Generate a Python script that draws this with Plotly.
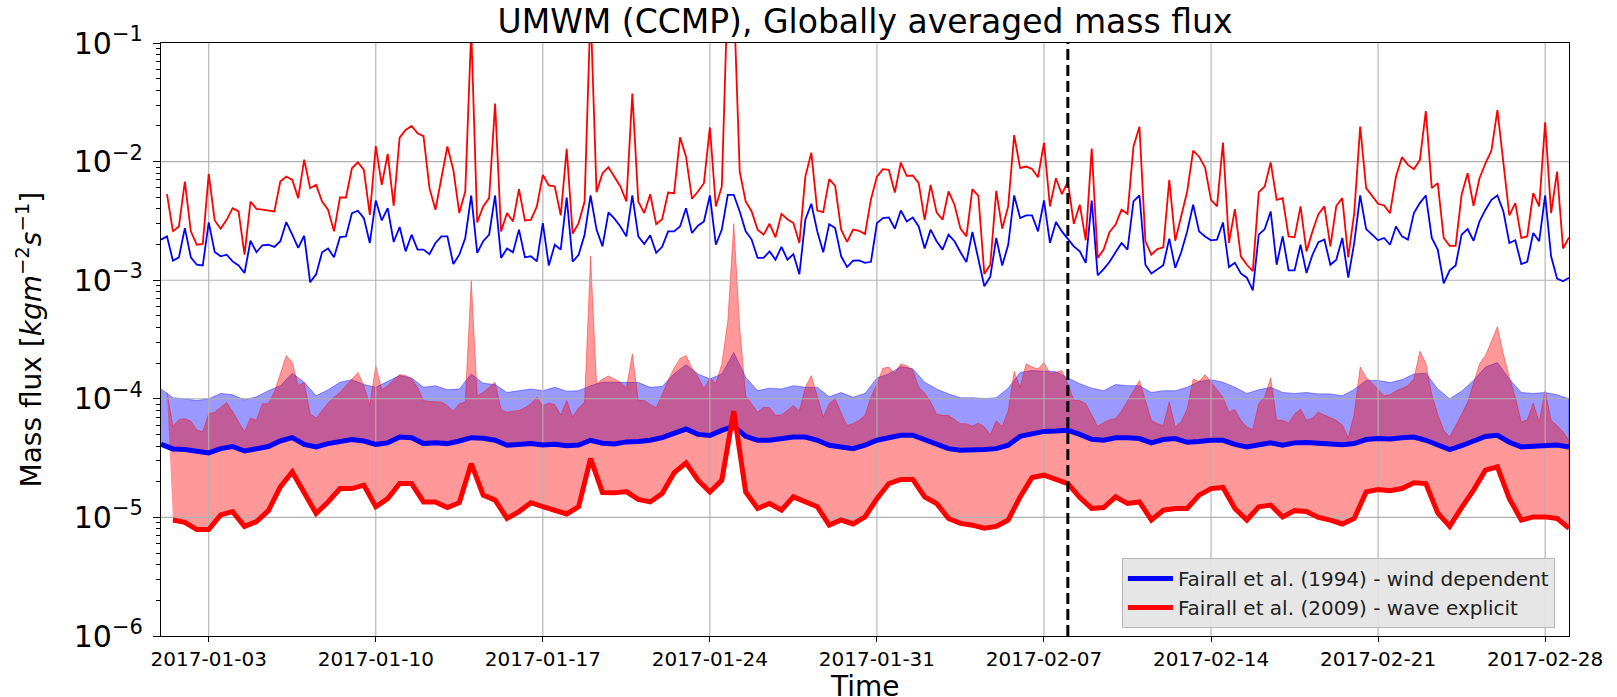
import pandas as pd
import plotly.graph_objects as go

# ---------------- data ----------------
t_start = "2017-01-01 00:00"
split_date = "2017-02-08 00:00"
x_range = ["2017-01-01 00:00", "2017-03-01 00:00"]
x_tick_labels = ["2017-01-03", "2017-01-10", "2017-01-17", "2017-01-24", "2017-01-31",
                 "2017-02-07", "2017-02-14", "2017-02-21", "2017-02-28"]
y_tick_exponents = [-6, -5, -4, -3, -2, -1]
legend_names = ["Fairall et al. (1994) - wind dependent", "Fairall et al. (2009) - wave explicit"]

UNIT_TOP = 1e-3   # thin (maximum) curves, kg m-2 s-1
UNIT_LOW = 1e-5   # band / mean curves, kg m-2 s-1

# 6-hourly maximum, wind-dependent (x1e-3)
wind_max = [
    2.20, 2.34, 1.46, 1.56, 2.75, 1.56, 1.35, 1.33, 3.07, 1.73,
    1.59, 1.64, 1.44, 1.33, 1.15, 2.15, 1.72, 1.97, 1.99, 1.91,
    2.13, 3.09, 2.42, 1.87, 2.37, 0.96, 1.12, 1.72, 1.85, 1.56,
    2.31, 2.34, 3.68, 3.85, 3.34, 2.06, 4.70, 3.19, 4.05, 2.10,
    2.81, 1.75, 2.42, 1.81, 1.81, 1.66, 2.06, 2.34, 2.34, 1.37,
    1.64, 2.27, 5.18, 1.70, 2.13, 2.42, 5.18, 1.54, 1.85, 1.72,
    2.67, 1.56, 1.59, 1.44,
    3.03, 1.33, 1.99, 1.81, 4.98, 1.43, 1.64, 2.42, 5.18, 2.67,
    1.93, 3.73, 3.30, 2.84, 2.34, 5.18, 2.34, 2.02, 2.39, 1.70,
    1.91, 2.58, 2.58, 2.84, 4.05, 2.50, 2.88, 3.13, 5.18, 1.99,
    2.67, 5.25, 5.25, 3.80, 2.58, 2.20, 1.54, 1.54, 1.75, 1.49,
    1.91, 1.49, 1.66, 1.12, 3.23, 4.41, 2.58, 1.72, 2.97, 2.75,
    1.59, 1.29, 1.46, 1.47, 1.40, 1.43, 3.03, 3.34, 3.38, 2.72,
    3.87, 3.13, 3.38, 2.84, 1.85, 2.67, 2.13,
    1.81, 2.42, 2.13, 1.72, 1.42, 2.55, 1.49, 0.89, 1.07, 2.27,
    1.33, 1.99, 5.18, 3.34, 3.52, 3.52, 2.58, 4.70, 2.06, 3.09,
    2.58, 2.24, 1.93, 1.75, 1.40, 4.70, 1.10, 1.24, 1.43, 1.72,
    2.06, 1.81, 4.61, 5.18, 1.35, 1.14, 1.23, 1.34, 2.24, 1.27,
    1.72, 2.58, 4.33, 2.58, 2.34, 2.17, 2.20, 3.07, 1.29, 1.40,
    1.14, 1.05, 0.82, 2.42, 2.70, 3.80, 1.35, 2.34, 1.21, 1.21,
    1.99, 1.15, 1.64, 2.09, 2.20, 1.35, 1.49, 2.27, 1.05,
    2.06, 5.18, 2.70, 2.42, 2.17, 2.27, 1.99, 2.84, 2.34, 2.20,
    3.68, 4.47, 5.18, 2.27, 1.81, 0.94, 1.21, 1.33, 2.42, 2.70,
    2.15, 3.13, 3.93, 4.76, 5.18, 3.80, 2.06, 2.17, 1.37, 1.43,
    2.50, 2.13, 5.18, 1.59, 1.03, 0.98, 1.05,
]

# 6-hourly maximum, wave-explicit (x1e-3)
wave_max = [
    None,
    5.31, 2.58, 2.84, 6.79, 2.58, 1.99, 2.02, 7.88, 3.19, 2.72,
    3.23, 4.05, 3.80, 1.64, 4.61, 4.00, 3.93, 3.87, 3.80, 6.79,
    7.48, 7.01, 4.92, 10.4, 5.97, 6.37, 4.61, 3.93, 2.58, 4.98,
    4.98, 8.79, 9.87, 8.51, 3.56, 13.5, 6.37, 11.6, 4.24, 15.9,
    18.5, 20.0, 17.3, 16.4, 5.97, 3.93, 7.24, 13.4, 8.51, 3.68,
    5.60, 130, 3.07, 4.19, 4.92, 30.9, 2.58, 3.68, 3.13, 5.85,
    3.19, 3.23, 4.19,
    7.73, 6.29, 6.17, 3.52, 12.8, 2.47, 3.03, 4.61, 200, 5.52,
    7.98, 8.96, 7.48, 6.17, 4.61, 37.5, 4.61, 3.68, 5.31, 2.97,
    3.27, 5.49, 5.42, 16.0, 11.0, 4.86, 5.60, 6.58, 19.4, 4.19,
    6.17, 300, 250, 8.24, 4.61, 3.80, 2.67, 2.42, 2.99, 2.30,
    3.63, 3.27, 3.03, 2.06, 7.48, 11.9, 3.87, 3.75, 7.11, 6.25,
    2.67, 2.10, 2.67, 2.61, 2.45, 4.82, 7.48, 8.63, 8.51, 5.49,
    9.82, 7.58, 7.63, 6.58, 3.23, 6.37, 3.73,
    3.23, 5.60, 4.33, 2.72, 2.34, 5.85, 5.14, 1.13, 1.35, 5.67,
    2.72, 4.19, 16.7, 8.79, 9.08, 8.67, 7.38, 14.4, 4.19, 7.24,
    5.31, 6.79, 2.99, 4.33, 2.17, 12.9, 1.54, 1.81, 2.55, 2.94,
    3.93, 3.63, 13.4, 19.7, 2.13, 1.64, 1.83, 1.89, 7.01, 2.15,
    3.56, 5.60, 12.4, 11.0, 8.91, 4.76, 4.19, 14.5, 2.06, 3.97,
    1.59, 1.35, 1.19, 5.52, 6.17, 9.87, 4.76, 4.92, 2.34, 2.30,
    4.19, 1.75, 2.58, 3.61, 4.19, 1.93, 4.24, 4.92, 1.56,
    3.68, 19.7, 5.97, 5.14, 4.41, 4.27, 3.68, 7.48, 10.9, 9.38,
    8.63, 10.3, 26.7, 5.97, 6.58, 2.27, 1.95, 1.95, 5.25, 7.98,
    4.24, 7.24, 9.68, 12.4, 27.2, 9.82, 3.52, 4.47, 2.27, 2.34,
    5.42, 4.19, 21.4, 3.68, 8.24, 1.85, 2.30,
]

# 12-hourly band upper edge, wind-dependent (x1e-5)
wind_upper = [
    12.1, 10.2, 10.0, 9.68, 10.0, 11.1, 10.8, 9.8, 10.4, 11.7,
    12.9, 16.4, 13.8, 10.6, 11.9, 13.8, 14.5, 13.2, 12.5, 14.1,
    15.7, 15.0, 12.5, 12.9, 11.9, 12.1, 16.2, 13.5, 13.2, 11.3,
    11.7, 12.1, 11.7, 12.5,
    11.6, 11.7, 12.9, 13.8, 13.8, 13.8, 13.7, 12.5, 12.7, 16.2,
    19.4, 16.2, 14.7, 16.2, 24.6, 15.2, 11.7, 12.3, 12.1, 12.9,
    12.5, 12.5, 10.4, 11.3, 10.3, 11.1, 15.0, 16.2, 18.7, 17.9,
    13.8, 12.1, 11.0,
    10.2, 10.2, 10.05, 10.2, 12.3, 16.7, 17.3, 17.0, 16.9, 15.0,
    13.4, 12.3, 11.7, 13.2, 12.9, 12.9, 11.3, 11.7, 11.7, 12.5,
    14.0, 14.5, 13.8, 12.5, 11.1, 11.9, 12.5, 11.3, 11.1, 11.3,
    11.0, 11.0, 10.6, 12.0,
    14.3, 14.3, 13.7, 14.5, 16.2, 16.4, 12.1, 10.0, 11.6, 14.3,
    18.5, 20.2, 14.7, 11.3, 11.1, 11.3, 10.8, 10.0,
]

# 6-hourly band upper edge, wave-explicit (x1e-5)
wave_upper = [
    None,
    11.4, 5.86, 6.66, 6.8, 6.5, 5.46, 5.28, 7.48, 7.7, 8.4,
    9.3, 7.8, 6.36, 5.25, 6.9, 6.58, 9.08, 9.08, 11.4, 16.2,
    23.2, 20.2, 12.9, 13.8, 7.48, 6.9, 7.98, 9.2, 10.3, 11.3,
    12.9, 14.7, 16.7, 12.9, 8.8, 19.0, 11.9, 12.9, 14.3, 16.0,
    15.7, 14.7, 12.5, 9.68, 9.5, 9.38, 9.38, 8.8, 7.87, 9.08,
    9.38, 100, 10.6, 11.3, 12.5, 13.8, 8.1, 7.7, 7.87, 7.98,
    8.4, 9.08, 10.3, 8.7, 9.2, 8.95, 7.3, 9.68, 7.0, 8.4,
    9.38, 160, 13.4, 14.7, 15.6, 14.7, 13.8, 12.3, 23.9, 9.68,
    9.68, 8.95, 8.4, 10.8, 14.3, 18.2, 21.8, 23.2, 18.2, 15.4,
    12.1, 15.0, 13.5, 19.7, 45, 300, 40, 10.6, 9.08, 7.7,
    8.5, 8.4, 7.25, 7.3, 7.98, 8.8, 7.87, 12.5, 15.7, 10.3,
    7.0, 9.08, 10.0, 7.6, 5.96, 6.17, 6.58, 7.25, 10.3, 13.4,
    18.1, 18.5, 16.4, 19.7, 19.0, 17.5, 12.5, 11.2, 9.38, 7.4,
    7.25, 7.25, 6.66, 6.17, 6.17, 5.86, 6.25, 5.78, 5.0, 6.5,
    5.86, 7.87, 17.0, 12.5, 19.7, 18.5, 17.9, 20.2, 16.4, 16.7,
    17.3, 13.4, 9.68, 9.68, 9.08, 7.25, 5.86, 6.3, 6.66, 6.8,
    7.9, 9.56, 11.7, 14.3, 9.68, 6.58, 6.17, 5.96, 9.38, 5.78,
    6.4, 8.2, 14.7, 14.0, 16.0, 13.9, 12.1, 10.3, 7.7, 8.1,
    6.58, 5.78, 5.5, 9.08, 10.4, 15.0, 6.58, 6.58, 6.25, 7.4,
    8.2, 6.58, 6.9, 7.7, 7.3, 6.9, 6.58, 6.0, 4.69, 7.4,
    18.5, 15.2, 13.4, 11.9, 10.6, 10.8, 11.7, 12.2, 12.9, 14.7,
    25.2, 20.0, 10.8, 7.4, 5.42, 4.76, 5.86, 7.4, 9.3, 13.4,
    19.7, 23.2, 30.5, 40.5, 23.9, 15.2, 10.3, 6.36, 6.66, 9.2,
    6.36, 11.7, 6.58, 5.96, 5.25, 4.47,
]

# 12-hourly global mean, wind-dependent (x1e-5)
wind_mean = [
    4.13, 3.78, 3.73, 3.63, 3.50, 3.80, 3.96, 3.63, 3.80, 3.96,
    4.41, 4.70, 4.13, 3.93, 4.19, 4.41, 4.53, 4.41, 4.13, 4.25,
    4.76, 4.70, 4.19, 4.25, 4.19, 4.41, 4.70, 4.64, 4.47, 4.06,
    4.13, 4.19, 4.08, 4.13,
    4.02, 4.08, 4.47, 4.22, 4.16, 4.33, 4.36, 4.47, 4.70, 5.15,
    5.56, 5.01, 4.90, 5.42, 5.86, 4.82, 4.47, 4.47, 4.62, 4.76,
    4.76, 4.47, 4.06, 3.93, 3.80, 4.06, 4.47, 4.70, 4.93, 4.93,
    4.53, 4.13, 3.80,
    3.68, 3.68, 3.73, 3.80, 4.06, 4.82, 5.08, 5.31, 5.35, 5.42,
    5.01, 4.56, 4.47, 4.70, 4.70, 4.62, 4.25, 4.53, 4.62, 4.30,
    4.36, 4.47, 4.47, 4.13, 3.93, 4.10, 4.25, 4.06, 4.25, 4.28,
    4.25, 4.19, 4.10, 4.19,
    4.53, 4.62, 4.59, 4.70, 4.76, 4.47, 4.13, 3.73, 4.02, 4.41,
    4.82, 4.93, 4.30, 3.93, 3.96, 4.06, 4.08, 3.93,
]

# 12-hourly global mean, wave-explicit (x1e-5)
wave_mean = [
    None, 0.95, 0.91, 0.79, 0.79, 1.05, 1.12, 0.84, 0.92, 1.14,
    1.81, 2.42, 1.59, 1.08, 1.35, 1.75, 1.75, 1.87, 1.23, 1.44,
    1.93, 1.93, 1.35, 1.35, 1.21, 1.33, 2.84, 1.54, 1.40, 0.98,
    1.12, 1.33, 1.23, 1.15,
    1.07, 1.23, 3.13, 1.62, 1.61, 1.65, 1.42, 1.35, 1.59, 2.37,
    2.88, 2.06, 1.64, 2.06, 7.87, 1.64, 1.19, 1.31, 1.15, 1.49,
    1.35, 1.23, 0.86, 0.95, 0.88, 1.01, 1.44, 1.93, 2.09, 2.09,
    1.49, 1.31, 0.98,
    0.89, 0.86, 0.81, 0.84, 0.95, 1.49, 2.17, 2.27, 2.09, 1.93,
    1.47, 1.19, 1.21, 1.49, 1.31, 1.35, 0.95, 1.15, 1.19, 1.19,
    1.54, 1.75, 1.79, 1.19, 0.95, 1.23, 1.27, 1.01, 1.14, 1.12,
    1.00, 0.95, 0.88, 0.98,
    1.64, 1.72, 1.68, 1.75, 1.96, 1.93, 1.09, 0.84, 1.21, 1.70,
    2.50, 2.67, 1.44, 0.95, 1.01, 1.01, 0.98, 0.81,
]

# ---------------- helpers ----------------
def scaled(vals, unit):
    return [None if v is None else v * unit for v in vals]

def times(vals, freq):
    return list(pd.date_range(t_start, periods=len(vals), freq=freq))

def band(x_lo, lo, x_hi, hi):
    top = [(a, v) for a, v in zip(x_hi, hi) if v is not None]
    bot = [(a, v) for a, v in zip(x_lo, lo) if v is not None]
    xs = [p[0] for p in top] + [p[0] for p in bot][::-1]
    ys = [p[1] for p in top] + [p[1] for p in bot][::-1]
    return xs, ys

t6_wind = times(wind_max, "6h")
t6_wave = times(wave_max, "6h")
t6_wave_up = times(wave_upper, "6h")
t12 = times(wind_mean, "12h")
t12_wind_up = times(wind_upper, "12h")
t12_wave = times(wave_mean, "12h")

BLUE = "#0000ff"
RED = "#ff0000"
FONT = "DejaVu Sans"

fig = go.Figure()

# shaded bands (drawn first, like fill_between)
bx, by = band(t12, scaled(wind_mean, UNIT_LOW), t12_wind_up, scaled(wind_upper, UNIT_LOW))
fig.add_trace(go.Scatter(x=bx, y=by, fill="toself", mode="lines",
                         fillcolor="rgba(0,0,255,0.4)",
                         line=dict(color="rgba(0,0,255,0.4)", width=1),
                         showlegend=False, hoverinfo="skip"))
rx, ry = band(t12_wave, scaled(wave_mean, UNIT_LOW), t6_wave_up, scaled(wave_upper, UNIT_LOW))
fig.add_trace(go.Scatter(x=rx, y=ry, fill="toself", mode="lines",
                         fillcolor="rgba(255,0,0,0.4)",
                         line=dict(color="rgba(255,0,0,0.4)", width=1),
                         showlegend=False, hoverinfo="skip"))

# grid lines (above patches, below lines - matplotlib default)
y_lo, y_hi = 10.0 ** y_tick_exponents[0], 10.0 ** y_tick_exponents[-1]
gx, gy = [], []
for d in x_tick_labels:
    gx += [d, d, None]
    gy += [y_lo, y_hi, None]
for e in y_tick_exponents[1:-1]:
    gx += [x_range[0], x_range[1], None]
    gy += [10.0 ** e, 10.0 ** e, None]
fig.add_trace(go.Scatter(x=gx, y=gy, mode="lines", line=dict(color="#b0b0b0", width=1.1),
                         showlegend=False, hoverinfo="skip"))

# maximum curves (thin)
fig.add_trace(go.Scatter(x=t6_wind, y=scaled(wind_max, UNIT_TOP), mode="lines",
                         line=dict(color=BLUE, width=1.8), showlegend=False))
fig.add_trace(go.Scatter(x=t6_wave, y=scaled(wave_max, UNIT_TOP), mode="lines",
                         line=dict(color=RED, width=1.8), showlegend=False))

# mean curves (thick)
fig.add_trace(go.Scatter(x=t12, y=scaled(wind_mean, UNIT_LOW), mode="lines",
                         line=dict(color=BLUE, width=5), name=legend_names[0]))
fig.add_trace(go.Scatter(x=t12_wave, y=scaled(wave_mean, UNIT_LOW), mode="lines",
                         line=dict(color=RED, width=5), name=legend_names[1]))

# dashed split line
fig.add_shape(type="line", xref="x", yref="paper", x0=split_date, x1=split_date, y0=0, y1=1,
              line=dict(color="black", width=3, dash="11px,5px"), layer="above")

minor_vals = [m * 10.0 ** e for e in y_tick_exponents[:-1] for m in range(2, 10)]

fig.update_layout(
    width=1617, height=697,
    margin=dict(l=161, r=48, t=43, b=61, autoexpand=False),
    paper_bgcolor="white", plot_bgcolor="white",
    font=dict(family=FONT, color="black"),
    title=dict(text="UMWM (CCMP), Globally averaged mass flux", x=0.5, xref="paper",
               xanchor="center", y=1 - 21 / 697, yref="container", yanchor="middle",
               font=dict(size=33, family=FONT, color="black")),
    showlegend=True,
    legend=dict(x=0.99, y=8 / 593, xanchor="right", yanchor="bottom",
                bgcolor="rgba(228,228,228,0.92)", bordercolor="#b8b8b8", borderwidth=1,
                font=dict(size=20, family=FONT, color="#222"), itemwidth=45,
                tracegroupgap=0),
    xaxis=dict(type="date", range=x_range, showgrid=False, zeroline=False,
               tickmode="array", tickvals=x_tick_labels, ticktext=x_tick_labels,
               ticks="outside", ticklen=5, tickwidth=1.2, tickcolor="black",
               tickfont=dict(size=20, family=FONT, color="black"),
               showline=True, mirror=True, linecolor="black", linewidth=1.3,
               layer="above traces", automargin=False),
    yaxis=dict(type="log", range=[y_tick_exponents[0], y_tick_exponents[-1]],
               showgrid=False, zeroline=False,
               tickmode="array", tickvals=[10.0 ** e for e in y_tick_exponents],
               ticktext=["10<sup>\u2212%d</sup>" % (-e) for e in y_tick_exponents],
               ticks="outside", ticklen=7, tickwidth=1.2, tickcolor="black",
               tickfont=dict(size=30, family=FONT, color="black"), ticklabelstandoff=4,
               minor=dict(tickmode="array", tickvals=minor_vals, ticks="outside",
                          ticklen=4, tickwidth=1, tickcolor="black", showgrid=False),
               showline=True, mirror=True, linecolor="black", linewidth=1.3,
               layer="above traces", automargin=False),
    annotations=[
        dict(text="Time", xref="paper", yref="paper", x=0.5, y=-(669 - 636) / 593,
             xanchor="center", yanchor="top", showarrow=False, borderpad=0,
             font=dict(size=28, family=FONT, color="black")),
        dict(text="Mass flux [<i>kgm</i><sup>\u22122</sup><i>s</i><sup>\u22121</sup>]",
             xref="paper", yref="paper", x=-(161 - 30) / 1408, y=0.5, textangle=-90,
             xanchor="center", yanchor="middle", showarrow=False,
             font=dict(size=28, family=FONT, color="black")),
    ],
)

fig.write_html("out.html", config={"displayModeBar": False},
               post_script="document.body.style.margin='0px';")
